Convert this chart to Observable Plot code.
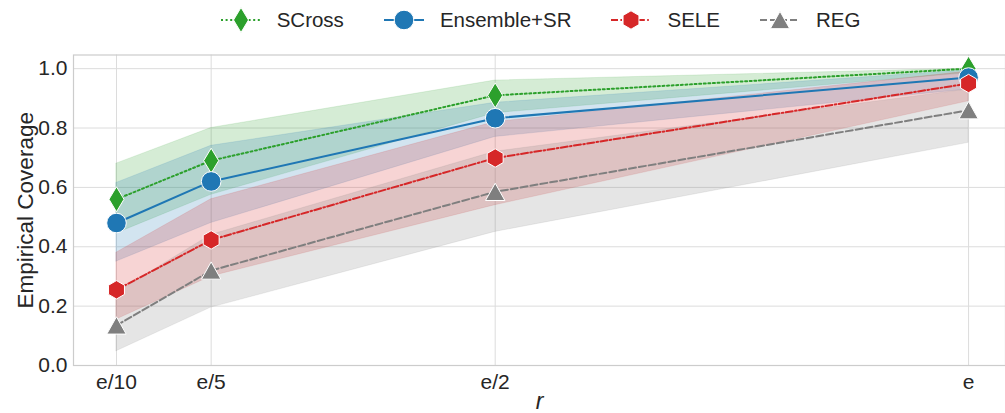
<!DOCTYPE html>
<html>
<head>
<meta charset="utf-8">
<script src="https://cdn.jsdelivr.net/npm/d3@7"></script>
<script src="https://cdn.jsdelivr.net/npm/@observablehq/plot@0.6"></script>
<style>
  html, body { margin: 0; padding: 0; background: #fff; }
  body { width: 1005px; height: 413px; overflow: hidden; font-family: "Liberation Sans", Arial, sans-serif; }
  #legend { height: 40px; box-sizing: border-box; padding-left: 76px; display: flex; justify-content: center; align-items: center; gap: 40px; color: #262626; font-size: 20.5px; }
  .item { display: flex; align-items: center; }
  .item svg { margin-right: 16px; overflow: visible; }
</style>
</head>
<body>
<div id="legend"></div>
<div id="chart"></div>
<script>
// ---- data ----
const xLabels = ["e/10", "e/5", "e/2", "e"];
const xValues = [Math.E / 10, Math.E / 5, Math.E / 2, Math.E];
const seriesNames = ["SCross", "Ensemble+SR", "SELE", "REG"];

const scrossMean = [0.56, 0.69, 0.91, 1.0];
const scrossLo   = [0.445, 0.575, 0.85, 0.985];
const scrossHi   = [0.68, 0.80, 0.96, 1.0];

const ensembleMean = [0.48, 0.62, 0.833, 0.97];
const ensembleLo   = [0.35, 0.48, 0.77, 0.93];
const ensembleHi   = [0.615, 0.74, 0.885, 0.995];

const seleMean = [0.255, 0.423, 0.699, 0.95];
const seleLo   = [0.155, 0.30, 0.54, 0.89];
const seleHi   = [0.38, 0.56, 0.82, 0.99];

const regMean = [0.135, 0.32, 0.585, 0.86];
const regLo   = [0.048, 0.195, 0.45, 0.75];
const regHi   = [0.245, 0.44, 0.72, 0.93];

const yTicks = [0, 0.2, 0.4, 0.6, 0.8, 1.0];

// ---- styles ----
const colors = ["#2ca02c", "#1f77b4", "#d62728", "#7f7f7f"];
const dashes = ["2,2.6", null, "7,2.4,1.6,2.4", "7,3"];

const thinDiamond = {draw(ctx, size) {
  const r = Math.sqrt(size / Math.PI), w = r * 0.6;
  ctx.moveTo(0, -r); ctx.lineTo(w, 0); ctx.lineTo(0, r); ctx.lineTo(-w, 0); ctx.closePath();
}};
const circleSym = {draw(ctx, size) {
  const r = Math.sqrt(size / Math.PI);
  ctx.moveTo(r, 0); ctx.arc(0, 0, r, 0, 2 * Math.PI); ctx.closePath();
}};
const hexagon = {draw(ctx, size) {
  const r = Math.sqrt(size / Math.PI);
  for (let k = 0; k < 6; k++) {
    const a = -Math.PI / 2 + k * Math.PI / 3;
    const px = r * Math.cos(a), py = r * Math.sin(a);
    if (k === 0) ctx.moveTo(px, py); else ctx.lineTo(px, py);
  }
  ctx.closePath();
}};
const triangle = {draw(ctx, size) {
  const r = Math.sqrt(size / Math.PI);
  ctx.moveTo(0, -r * 0.92); ctx.lineTo(r * 1.03, r * 0.92); ctx.lineTo(-r * 1.03, r * 0.92); ctx.closePath();
}};
const symbols = [thinDiamond, circleSym, hexagon, triangle];
const radii = [12.5, 9.8, 9.2, 9.4];

const means = [scrossMean, ensembleMean, seleMean, regMean];
const los = [scrossLo, ensembleLo, seleLo, regLo];
const his = [scrossHi, ensembleHi, seleHi, regHi];

const tables = seriesNames.map((name, s) => xValues.map((x, i) => ({
  series: name, x, mean: means[s][i], lo: los[s][i], hi: his[s][i]
})));

// ---- legend ----
const legend = d3.select("#legend");
seriesNames.forEach((name, s) => {
  const it = legend.append("div").attr("class", "item");
  const svg = it.append("svg").attr("width", 40).attr("height", 30);
  svg.append("line").attr("x1", 0).attr("x2", 40).attr("y1", 15).attr("y2", 15)
    .attr("stroke", colors[s]).attr("stroke-width", 2)
    .attr("stroke-dasharray", dashes[s]);
  const p = d3.path();
  symbols[s].draw(p, radii[s] * radii[s] * Math.PI);
  svg.append("path").attr("d", p.toString()).attr("transform", "translate(20,15)")
    .attr("fill", colors[s]).attr("stroke", "white").attr("stroke-width", 1);
  it.append("span").text(name);
});

// ---- chart ----
const marks = [
  Plot.gridY(yTicks, {stroke: "#dcdcdc", strokeOpacity: 1, strokeWidth: 1}),
  Plot.gridX(xValues, {stroke: "#dcdcdc", strokeOpacity: 1, strokeWidth: 1}),
  Plot.frame({stroke: "#cccccc", strokeWidth: 1.2})
];
tables.forEach((t, s) => {
  marks.push(Plot.areaY(t, {x: "x", y1: "lo", y2: "hi", fill: colors[s], fillOpacity: 0.2,
    stroke: colors[s], strokeOpacity: 0.12, strokeWidth: 1}));
});
tables.forEach((t, s) => {
  marks.push(Plot.lineY(t, {x: "x", y: "mean", stroke: colors[s], strokeWidth: 2,
    strokeDasharray: dashes[s] || undefined}));
  marks.push(Plot.dot(t, {x: "x", y: "mean", symbol: symbols[s], r: radii[s], fill: colors[s],
    stroke: "white", strokeWidth: 1}));
});
marks.push(Plot.axisX(xValues, {tickFormat: d => xLabels[xValues.indexOf(d)], tickSize: 0, tickPadding: 9,
  label: "r", labelAnchor: "center", labelOffset: 43, labelArrow: "none", fill: "#262626"}));
marks.push(Plot.axisY(yTicks, {tickFormat: d => d.toFixed(1), tickSize: 0, tickPadding: 6,
  label: "Empirical Coverage", labelAnchor: "center", labelOffset: 56, labelArrow: "none", fill: "#262626"}));

const chart = Plot.plot({
  width: 1005, height: 373,
  marginLeft: 73, marginRight: 0, marginTop: 14.5, marginBottom: 48,
  x: {domain: [0.1484, 2.8243]},
  y: {domain: [0, 1.046]},
  style: {fontFamily: '"Liberation Sans", Arial, sans-serif', fontSize: "21px", color: "#262626", background: "#fff", overflow: "visible"},
  marks
});
document.getElementById("chart").appendChild(chart);
d3.select(chart).selectAll('g[aria-label="x-axis label"] text').style("font-size", "23px").style("font-style", "italic");
d3.select(chart).selectAll('g[aria-label="y-axis label"] text').style("font-size", "22.5px");
</script>
</body>
</html>
